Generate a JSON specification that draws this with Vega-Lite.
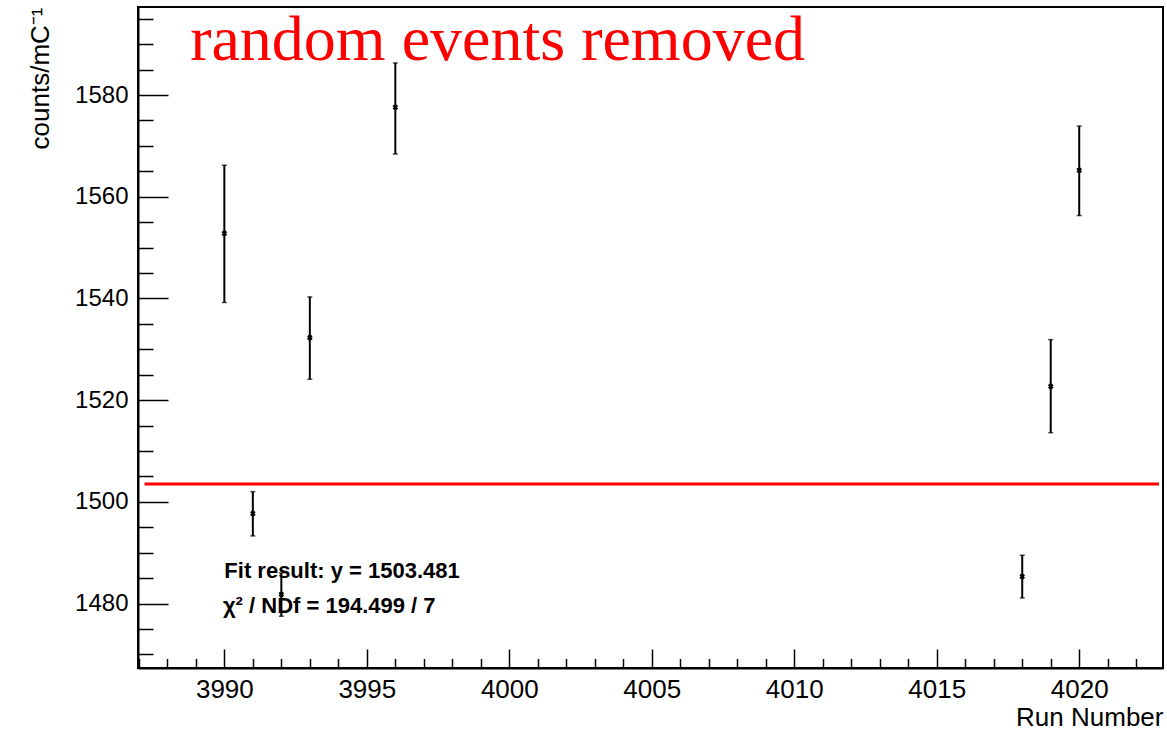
{
  "$schema": "https://vega.github.io/schema/vega-lite/v6.json",
  "width": 1025,
  "height": 661,
  "autosize": "none",
  "padding": {"left": 138, "top": 7, "right": 4, "bottom": 67},
  "background": "white",
  "config": {
    "view": {"stroke": "black", "strokeWidth": 2},
    "font": "Liberation Sans"
  },
  "datasets": {
    "runs": [
      {"run": 3990, "val": 1552.8, "lo": 1539.2, "hi": 1566.2},
      {"run": 3991, "val": 1497.7, "lo": 1493.3, "hi": 1502.0},
      {"run": 3992, "val": 1481.8, "lo": 1477.5, "hi": 1486.0},
      {"run": 3993, "val": 1532.3, "lo": 1524.1, "hi": 1540.3},
      {"run": 3996, "val": 1577.6, "lo": 1568.4, "hi": 1586.3},
      {"run": 4018, "val": 1485.3, "lo": 1481.1, "hi": 1489.5},
      {"run": 4019, "val": 1522.7, "lo": 1513.6, "hi": 1531.9},
      {"run": 4020, "val": 1565.2, "lo": 1556.3, "hi": 1573.9}
    ],
    "fit": [{"x0": 3987.2, "x1": 4022.8, "y": 1503.481}],
    "title": [{"x": 3988.8, "y": 1586.9, "t": "random events removed"}],
    "stats": [
      {"x": 3990, "y": 1484.95, "t": "Fit result: y = 1503.481"},
      {"x": 3989.95, "y": 1478.1, "t": "χ² / NDf = 194.499 / 7"}
    ]
  },
  "layer": [
    {
      "data": {"name": "fit"},
      "mark": {"type": "rule", "color": "#ff0000", "strokeWidth": 3},
      "encoding": {
        "x": {
          "field": "x0", "type": "quantitative", "title": "Run Number",
          "scale": {"domain": [3986.97, 4022.94], "nice": false, "zero": false},
          "axis": {
            "title": "Run Number", "titleAnchor": "end", "titleFontSize": 26, "titleFontWeight": "normal",
            "titleColor": "black", "titlePadding": -7,
            "values": [3987,3988,3989,3990,3991,3992,3993,3994,3995,3996,3997,3998,3999,4000,4001,4002,4003,4004,4005,4006,4007,4008,4009,4010,4011,4012,4013,4014,4015,4016,4017,4018,4019,4020,4021,4022],
            "tickCount": 500,
            "format": "d",
            "labelExpr": "datum.value % 5 === 0 ? datum.label : ''",
            "labelFontSize": 26, "labelColor": "black", "labelOverlap": false, "labelFlush": false, "labelBound": false,
            "labelPadding": 27,
            "tickSize": {"condition": {"test": "datum.value % 5 === 0", "value": -19}, "value": -9.5},
            "tickColor": "black", "tickWidth": 1.5,
            "domainColor": "black", "domainWidth": 2, "grid": false
          }
        },
        "x2": {"field": "x1"},
        "y": {
          "field": "y", "type": "quantitative", "title": "counts/mC⁻¹",
          "scale": {"domain": [1467.32, 1597.31], "nice": false, "zero": false},
          "axis": {
            "title": "counts/mC⁻¹", "titleAnchor": "end", "titleFontSize": 26, "titleFontWeight": "normal",
            "titleColor": "black", "titlePadding": 21,
            "values": [1470,1475,1480,1485,1490,1495,1500,1505,1510,1515,1520,1525,1530,1535,1540,1545,1550,1555,1560,1565,1570,1575,1580,1585,1590,1595],
            "tickCount": 500,
            "format": "d",
            "labelExpr": "datum.value % 20 === 0 ? datum.label : ''",
            "labelFontSize": 24, "labelColor": "black", "labelOverlap": false, "labelFlush": false, "labelBound": false,
            "labelPadding": 40,
            "tickSize": {"condition": {"test": "datum.value % 20 === 0", "value": -30}, "value": -15},
            "tickColor": "black", "tickWidth": 1.5,
            "domainColor": "black", "domainWidth": 2, "grid": false
          }
        }
      }
    },
    {
      "data": {"name": "runs"},
      "mark": {"type": "rule", "color": "black", "strokeWidth": 2},
      "encoding": {
        "x": {"field": "run", "type": "quantitative", "title": "Run Number"},
        "y": {"field": "lo", "type": "quantitative", "title": "counts/mC⁻¹"},
        "y2": {"field": "hi"}
      }
    },
    {
      "data": {"name": "runs"},
      "mark": {"type": "tick", "color": "black", "orient": "horizontal", "size": 5, "thickness": 1.5},
      "encoding": {
        "x": {"field": "run", "type": "quantitative", "title": "Run Number"},
        "y": {"field": "lo", "type": "quantitative", "title": "counts/mC⁻¹"}
      }
    },
    {
      "data": {"name": "runs"},
      "mark": {"type": "tick", "color": "black", "orient": "horizontal", "size": 5, "thickness": 1.5},
      "encoding": {
        "x": {"field": "run", "type": "quantitative", "title": "Run Number"},
        "y": {"field": "hi", "type": "quantitative", "title": "counts/mC⁻¹"}
      }
    },
    {
      "data": {"name": "runs"},
      "mark": {"type": "point", "shape": "cross", "angle": 45, "size": 32, "filled": true, "color": "black", "opacity": 1},
      "encoding": {
        "x": {"field": "run", "type": "quantitative", "title": "Run Number"},
        "y": {"field": "val", "type": "quantitative", "title": "counts/mC⁻¹"}
      }
    },
    {
      "data": {"name": "title"},
      "mark": {"type": "text", "font": "Liberation Serif", "fontSize": 64, "color": "#ff0000", "align": "left", "baseline": "alphabetic"},
      "encoding": {
        "x": {"field": "x", "type": "quantitative", "title": "Run Number"},
        "y": {"field": "y", "type": "quantitative", "title": "counts/mC⁻¹"},
        "text": {"field": "t"}
      }
    },
    {
      "data": {"name": "stats"},
      "mark": {"type": "text", "font": "Liberation Sans", "fontSize": 22, "fontWeight": "bold", "color": "black", "align": "left", "baseline": "alphabetic"},
      "encoding": {
        "x": {"field": "x", "type": "quantitative", "title": "Run Number"},
        "y": {"field": "y", "type": "quantitative", "title": "counts/mC⁻¹"},
        "text": {"field": "t"}
      }
    }
  ]
}
